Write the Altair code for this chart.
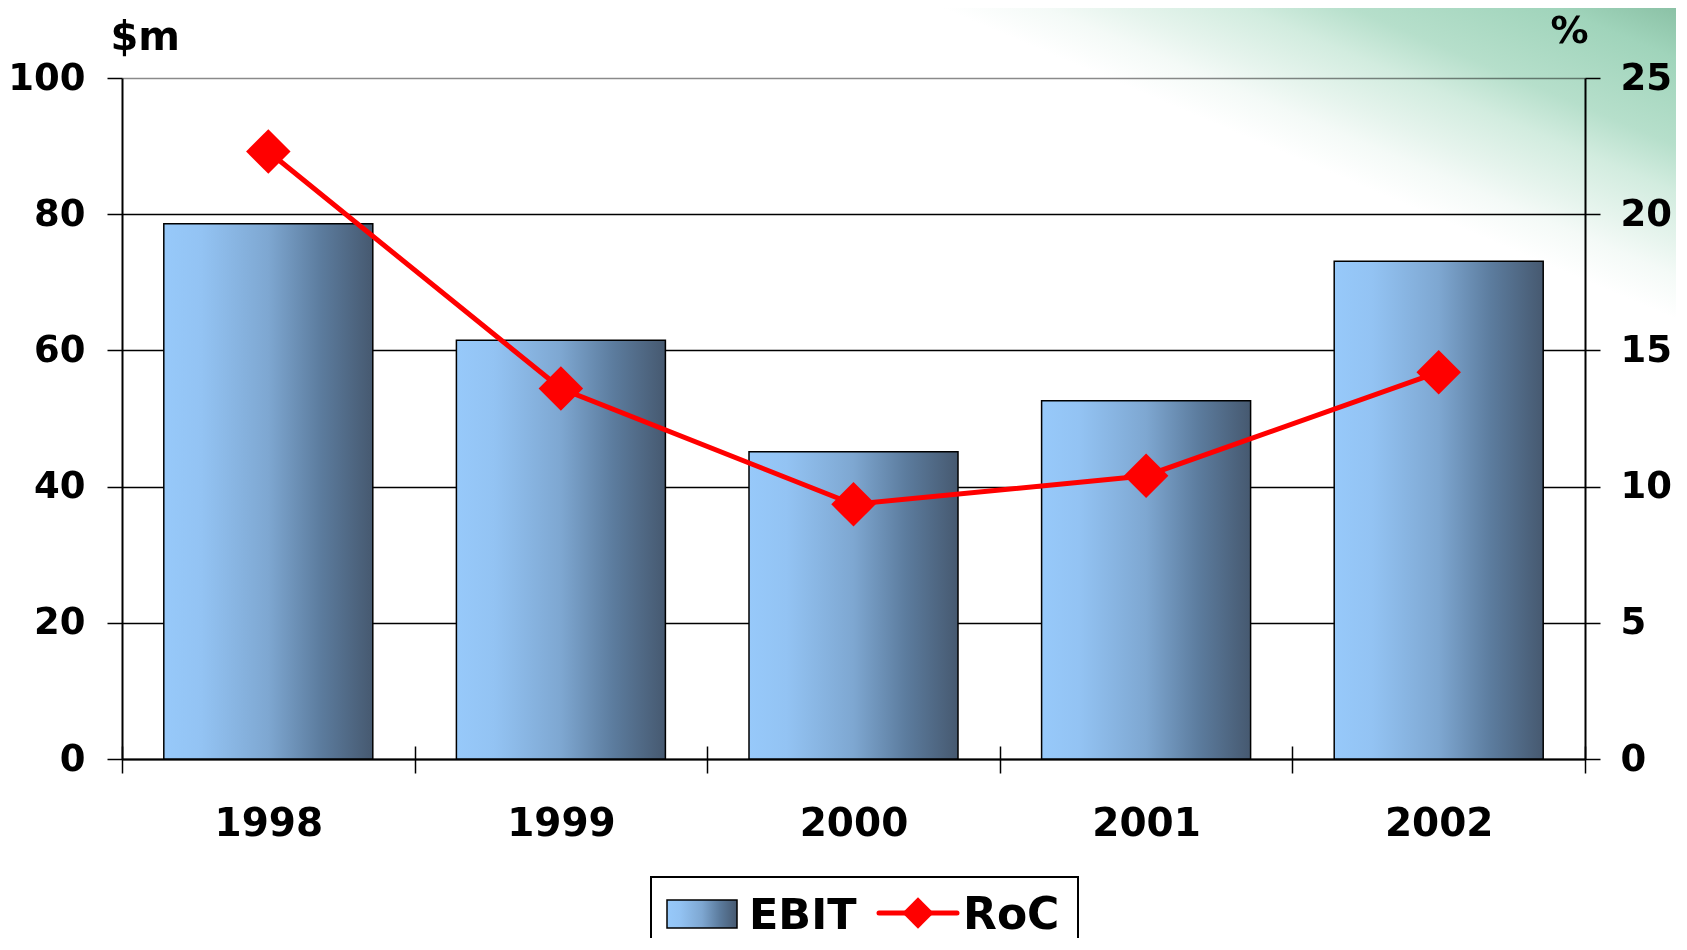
import altair as alt
import pandas as pd

# ---- data ----
years = ["1998", "1999", "2000", "2001", "2002"]
ebit = [78.6, 61.5, 45.1, 52.6, 73.1]      # $m, left axis
roc = [22.3, 13.6, 9.35, 10.4, 14.2]       # %, right axis
left_ticks = [0, 20, 40, 60, 80, 100]
right_ticks = [0, 5, 10, 15, 20, 25]

df = pd.DataFrame({"Year": years, "EBIT": ebit, "RoC": roc})

W, H = 1463, 681
FONT = "DejaVu Sans"
one = alt.Data(values=[{"k": 0}])

bar_grad = alt.LinearGradient(
    gradient="linear",
    stops=[
        alt.GradientStop(color="#97C9FA", offset=0),
        alt.GradientStop(color="#93C3F3", offset=0.18),
        alt.GradientStop(color="#7EA7D1", offset=0.5),
        alt.GradientStop(color="#5C7C9E", offset=0.75),
        alt.GradientStop(color="#465970", offset=1),
    ],
    x1=0, x2=1, y1=0, y2=0,
)

bg_grad = alt.LinearGradient(
    gradient="linear",
    stops=[
        alt.GradientStop(color="#FFFFFF", offset=0),
        alt.GradientStop(color="#F4FAF7", offset=0.125),
        alt.GradientStop(color="#E6F4ED", offset=0.219),
        alt.GradientStop(color="#D2ECDF", offset=0.366),
        alt.GradientStop(color="#B6DFCB", offset=0.5),
        alt.GradientStop(color="#A0D4BB", offset=0.75),
        alt.GradientStop(color="#86BDA1", offset=0.931),
        alt.GradientStop(color="#7CB397", offset=1),
    ],
    x1=0.5, y1=0.6998, x2=0.656, y2=0.3318,
)

# decorative slide background (top-right green wash)
bg = alt.Chart(one).mark_rect(fill=bg_grad, blend="multiply").encode(
    x=alt.value(778), x2=alt.value(1578), y=alt.value(-478), y2=alt.value(322)
)

xscale = alt.Scale(paddingInner=0, paddingOuter=0)

label_style = dict(labelFont=FONT, labelFontWeight="bold", labelColor="black")
title_style = dict(titleFont=FONT, titleFontWeight="bold", titleColor="black",
                   titleAngle=0, titleBaseline="alphabetic")

bars = alt.Chart(df).mark_bar(
    fill=bar_grad, stroke="black", strokeWidth=1.5,
    width=alt.RelativeBandSize(band=1 / 1.4),
).encode(
    x=alt.X("Year:N", scale=xscale, sort=years,
            axis=alt.Axis(orient="bottom", title=None, labelAngle=0, tickBand="extent",
                          tickSize=14, tickColor="black", tickWidth=1.5,
                          domainColor="black", domainWidth=2, labelPadding=31,
                          labelFontSize=39, **label_style)),
    y=alt.Y("EBIT:Q", scale=alt.Scale(domain=[0, 100], nice=False),
            axis=alt.Axis(orient="left", values=left_ticks, format="d", grid=True,
                          gridColor={"condition": {"test": "datum.value == 100", "value": "#8a8a8a"},
                                     "value": "black"},
                          gridWidth=1.5, domainColor="black", domainWidth=2,
                          tickColor="black", tickSize=15, tickWidth=1.5, labelPadding=22,
                          labelFontSize=37,
                          title="$m", titleX=-12, titleY=-29, titleAlign="left",
                          titleFontSize=40, **label_style, **title_style)),
)

line = alt.Chart(df).mark_line(
    color="#FF0000", strokeWidth=5,
    point=alt.OverlayMarkDef(shape="diamond", size=1980, filled=True, color="#FF0000", opacity=1),
).encode(
    x=alt.X("Year:N", scale=xscale, sort=years,
            axis=alt.Axis(orient="top", offset=-H, labels=False, domain=False, title=None,
                          tickBand="extent", tickSize=13, tickColor="black", tickWidth=1.5)),
    y=alt.Y("RoC:Q", scale=alt.Scale(domain=[0, 25], nice=False),
            axis=alt.Axis(orient="right", values=right_ticks, format="d", grid=False,
                          domainColor="black", domainWidth=2, tickColor="black",
                          tickSize=15, tickWidth=1.5, labelPadding=20, labelFontSize=37,
                          title="%", titleX=3, titleY=-36, titleAlign="right",
                          titleFontSize=38, **label_style, **title_style)),
)

# legend (drawn by hand to match the reference)
LY = -5  # small lift so the legend text stays inside the canvas
leg_box = alt.Chart(one).mark_rect(fill="white", stroke="black", strokeWidth=2).encode(
    x=alt.value(529), x2=alt.value(956), y=alt.value(804 + LY), y2=alt.value(900))
leg_sw = alt.Chart(one).mark_rect(fill=bar_grad, stroke="black", strokeWidth=1.5).encode(
    x=alt.value(545), x2=alt.value(615), y=alt.value(827 + LY), y2=alt.value(855 + LY))
leg_t1 = alt.Chart(one).mark_text(text="EBIT", font=FONT, fontSize=43, fontWeight="bold",
                                  color="black", align="left", baseline="alphabetic").encode(
    x=alt.value(627), y=alt.value(856 + LY))
leg_ln = alt.Chart(one).mark_rule(color="#FF0000", strokeWidth=5, strokeCap="round").encode(
    x=alt.value(757), x2=alt.value(835), y=alt.value(840 + LY))
leg_dm = alt.Chart(one).mark_point(shape="diamond", filled=True, color="#FF0000", size=980,
                                   opacity=1).encode(x=alt.value(796), y=alt.value(840 + LY))
leg_t2 = alt.Chart(one).mark_text(text="RoC", font=FONT, fontSize=44, fontWeight="bold",
                                  color="black", align="left", baseline="alphabetic").encode(
    x=alt.value(841), y=alt.value(856 + LY))

chart = alt.layer(
    bg, bars, line, leg_box, leg_sw, leg_t1, leg_ln, leg_dm, leg_t2
).resolve_scale(
    y="independent"
).resolve_axis(
    x="independent", y="independent"
).properties(
    width=W, height=H,
    autosize=alt.AutoSizeParams(type="none"),
    padding={"left": 114, "top": 70, "right": 91, "bottom": 179},
    background="white",
).configure_view(strokeWidth=0)

chart.save("out.html", embed_options={"renderer": "svg", "actions": False})
